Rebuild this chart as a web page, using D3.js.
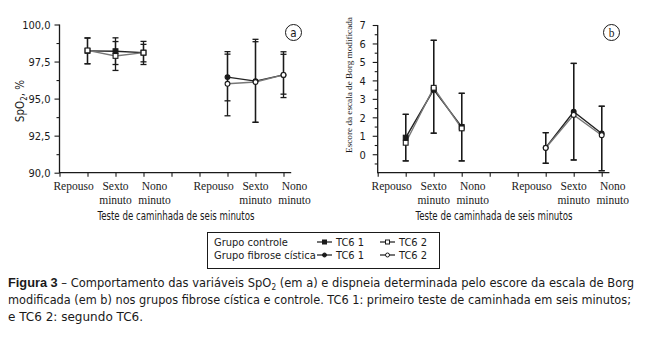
<!DOCTYPE html>
<html><head><meta charset="utf-8">
<script src="https://cdn.jsdelivr.net/npm/d3@7"></script>
<style>
html,body{margin:0;padding:0;background:#fff;}
svg{display:block;}
.sans{font-family:"Liberation Sans Narrow","DejaVu Sans Condensed","Liberation Sans",sans-serif;}
.serif{font-family:"Liberation Serif","DejaVu Serif",serif;}
</style>
</head><body>
<svg id="c" width="671" height="341"></svg>
<script>
// ---------- DATA ----------
const categories = ["Repouso", "Sexto minuto", "Nono minuto"];
const testLabel = "Teste de caminhada de seis minutos";
const seriesNames = ["TC6 1", "TC6 2"];
const groupNames = ["Grupo controle", "Grupo fibrose cística"];

// Panel a: SpO2 (%)
const spo2Ticks = [90, 92.5, 95, 97.5, 100];
const spo2ControlTC61 = [98.22, 98.20, 98.10];
const spo2ControlTC61Lo = [97.35, 97.30, 97.48];
const spo2ControlTC61Hi = [99.08, 99.10, 98.86];
const spo2ControlTC62 = [98.25, 97.88, 98.10];
const spo2ControlTC62Lo = [97.35, 96.90, 97.30];
const spo2ControlTC62Hi = [99.10, 98.85, 98.66];
const spo2FibroseTC61 = [96.45, 96.18, 96.60];
const spo2FibroseTC61Lo = [94.85, 93.40, 95.07];
const spo2FibroseTC61Hi = [98.17, 99.00, 98.16];
const spo2FibroseTC62 = [96.00, 96.12, 96.60];
const spo2FibroseTC62Lo = [93.84, 93.40, 95.30];
const spo2FibroseTC62Hi = [98.00, 98.84, 97.99];

// Panel b: Borg score
const borgTicks = [0, 1, 2, 3, 4, 5, 6, 7];
const borgControlTC61 = [0.90, 3.50, 1.48];
const borgControlTC62 = [0.62, 3.60, 1.40];
const borgControlLo = [-0.36, 1.14, -0.36];
const borgControlHi = [2.16, 6.17, 3.30];
const borgFibroseTC61 = [0.36, 2.30, 1.12];
const borgFibroseTC62 = [0.34, 2.13, 1.03];
const borgFibroseLo = [-0.49, -0.31, -0.89];
const borgFibroseHi = [1.17, 4.92, 2.60];

const caption1a = "Figura 3";
const caption1b = " – Comportamento das variáveis SpO";
const caption1c = " (em a) e dispneia determinada pelo escore da escala de Borg";
const caption2 = "modificada (em b) nos grupos fibrose cística e controle. TC6 1: primeiro teste de caminhada em seis minutos;";
const caption3 = "e TC6 2: segundo TC6.";

// ---------- DRAW ----------
const svg = d3.select("#c");
const INK = "#1a1a1a";
const controlSlots = [1, 2, 3], fibroseSlots = [6, 7, 8];
const labelShift = [-14, 0, 11];

function panel(opts) {
  const g = svg.append("g");
  const x = d3.scaleLinear().domain([0, 8.275]).range([opts.x0, opts.x0 + 8.275 * 28]);
  const y = d3.scaleLinear().domain(opts.ydom).range([172.7, opts.ytop]);

  const yMajor = d3.axisLeft(y).tickValues(opts.yticks).tickSize(5).tickPadding(opts.tpad)
    .tickFormat(opts.fmt);
  const yMinor = d3.axisLeft(y).tickValues(opts.yminor).tickSize(3).tickFormat("");
  const ya = g.append("g").attr("transform", `translate(${opts.x0},0)`).call(yMajor);
  const ym = g.append("g").attr("transform", `translate(${opts.x0},0)`).call(yMinor);
  [ya, ym].forEach(a => {
    a.select(".domain").remove();
    a.selectAll("line").attr("stroke", INK).attr("stroke-width", 1.1);
  });
  ya.selectAll("text").attr("class", "sans").attr("font-size", 11).attr("fill", INK).attr("font-family", null).attr("dy", "0.36em");
  g.append("line").attr("x1", opts.x0).attr("x2", opts.x0)
    .attr("y1", y(opts.ydom[1])).attr("y2", y(opts.ydom[0]) + 0.5)
    .attr("stroke", INK).attr("stroke-width", 1.3);

  const xa = g.append("g").attr("transform", `translate(0,${y(opts.ydom[0])})`)
    .call(d3.axisBottom(x).tickValues(d3.range(0, 9)).tickSize(4).tickFormat(""));
  xa.select(".domain").remove();
  xa.selectAll("line").attr("stroke", INK).attr("stroke-width", 1.1);
  g.append("line").attr("x1", opts.x0).attr("x2", x(8.275))
    .attr("y1", y(opts.ydom[0])).attr("y2", y(opts.ydom[0]))
    .attr("stroke", INK).attr("stroke-width", 1.3);

  [controlSlots, fibroseSlots].forEach(slots => {
    slots.forEach((s, i) => {
      const words = categories[i].split(" ");
      const t = g.append("text").attr("class", "serif").attr("font-size", 11.5).attr("fill", INK)
        .attr("text-anchor", "middle");
      words.forEach((w, k) => {
        t.append("tspan").attr("x", x(s) + labelShift[i]).attr("y", 190 + k * 14).text(w);
      });
    });
  });
  g.append("text").attr("class", "sans").attr("font-size", 11.5).attr("fill", INK)
    .attr("x", opts.titleX).attr("y", 220).attr("text-anchor", "middle")
    .attr("textLength", 157).attr("lengthAdjust", "spacingAndGlyphs").text(testLabel);

  const series = opts.series;
  series.forEach(s => {
    const slots = s.group === 0 ? controlSlots : fibroseSlots;
    const pts = s.mean.map((m, i) => ({x: x(slots[i]), m, lo: s.lo[i], hi: s.hi[i]}));
    const eb = g.append("g").attr("stroke", INK).attr("stroke-width", 1.3);
    pts.forEach(p => {
      eb.append("line").attr("x1", p.x).attr("x2", p.x).attr("y1", y(p.lo)).attr("y2", y(p.hi));
      eb.append("line").attr("x1", p.x - 3).attr("x2", p.x + 3).attr("y1", y(p.lo)).attr("y2", y(p.lo));
      eb.append("line").attr("x1", p.x - 3).attr("x2", p.x + 3).attr("y1", y(p.hi)).attr("y2", y(p.hi));
    });
    s._pts = pts;
  });
  series.forEach(s => {
    g.append("path").datum(s._pts)
      .attr("d", d3.line().x(p => p.x).y(p => y(p.m)))
      .attr("fill", "none").attr("stroke", s.filled ? "#222" : "#777").attr("stroke-width", 1.4);
  });
  series.forEach(s => {
    s._pts.forEach(p => {
      if (s.group === 0) {
        g.append("rect").attr("x", p.x - 2.4).attr("y", y(p.m) - 2.4).attr("width", 4.8).attr("height", 4.8)
          .attr("fill", s.filled ? INK : "#fff").attr("stroke", INK).attr("stroke-width", 1.1);
      } else {
        g.append("circle").attr("cx", p.x).attr("cy", y(p.m)).attr("r", 2.4)
          .attr("fill", s.filled ? INK : "#fff").attr("stroke", INK).attr("stroke-width", 1.1);
      }
    });
  });

  g.append("circle").attr("cx", opts.letterX).attr("cy", 32.5).attr("r", 8)
    .attr("fill", "none").attr("stroke", INK).attr("stroke-width", 1);
  g.append("text").attr("class", opts.letterClass).attr("font-size", 11.5).attr("fill", INK)
    .attr("x", opts.letterX).attr("y", 36.5).attr("text-anchor", "middle").text(opts.letter);
  return g;
}

const pa = panel({
  x0: 59.5, ydom: [90, 100], ytop: 24.5, yticks: spo2Ticks,
  yminor: d3.range(0, 8).map(i => 91.25 + i * 2.5).filter(v => v < 100),
  fmt: d => d3.format(".1f")(d).replace(".", ","), tpad: 4,
  titleX: 176, letterX: 293.5, letter: "a", letterClass: "sans",
  series: [
    {group: 0, filled: true, mean: spo2ControlTC61, lo: spo2ControlTC61Lo, hi: spo2ControlTC61Hi},
    {group: 0, filled: false, mean: spo2ControlTC62, lo: spo2ControlTC62Lo, hi: spo2ControlTC62Hi},
    {group: 1, filled: true, mean: spo2FibroseTC61, lo: spo2FibroseTC61Lo, hi: spo2FibroseTC61Hi},
    {group: 1, filled: false, mean: spo2FibroseTC62, lo: spo2FibroseTC62Lo, hi: spo2FibroseTC62Hi}
  ]
});
pa.append("text").attr("class", "sans").attr("font-size", 11.5).attr("fill", INK)
  .attr("transform", "translate(24,101) rotate(-90)").attr("text-anchor", "middle")
  .call(t => {
    t.append("tspan").text("SpO");
    t.append("tspan").attr("font-size", 8).attr("dy", 3).text("2");
    t.append("tspan").attr("dy", -3).text(", %");
  });

const pb = panel({
  x0: 377.7, ydom: [-1, 7], ytop: 25, yticks: borgTicks,
  yminor: d3.range(-0.5, 7, 1),
  fmt: d3.format("d"), tpad: 7,
  titleX: 494, letterX: 611.5, letter: "b", letterClass: "serif",
  series: [
    {group: 0, filled: true, mean: borgControlTC61, lo: borgControlLo, hi: borgControlHi},
    {group: 0, filled: false, mean: borgControlTC62, lo: borgControlLo, hi: borgControlHi},
    {group: 1, filled: true, mean: borgFibroseTC61, lo: borgFibroseLo, hi: borgFibroseHi},
    {group: 1, filled: false, mean: borgFibroseTC62, lo: borgFibroseLo, hi: borgFibroseHi}
  ]
});
pb.append("text").attr("class", "serif").attr("font-size", 9.2).attr("fill", INK)
  .attr("transform", "translate(351.5,85) rotate(-90)").attr("text-anchor", "middle")
  .text("Escore da escala de Borg modificada");

// ---------- LEGEND ----------
const lg = svg.append("g");
lg.append("rect").attr("x", 207.5).attr("y", 232.5).attr("width", 232).attr("height", 36)
  .attr("fill", "none").attr("stroke", INK).attr("stroke-width", 1);
groupNames.forEach((gn, gi) => {
  const yb = 245.5 + gi * 13;
  lg.append("text").attr("class", "sans").attr("font-size", 11).attr("fill", INK)
    .attr("x", 214).attr("y", yb).text(gn);
  seriesNames.forEach((sn, si) => {
    const lx = si === 0 ? 317 : 380;
    const cy = yb - 3.5;
    lg.append("line").attr("x1", lx).attr("x2", lx + 15).attr("y1", cy).attr("y2", cy)
      .attr("stroke", INK).attr("stroke-width", 1.2);
    const mx = lx + 7.5, filled = si === 0;
    if (gi === 0) {
      lg.append("rect").attr("x", mx - 2).attr("y", cy - 2).attr("width", 4).attr("height", 4)
        .attr("fill", filled ? INK : "#fff").attr("stroke", INK).attr("stroke-width", 1);
    } else {
      lg.append("circle").attr("cx", mx).attr("cy", cy).attr("r", 2)
        .attr("fill", filled ? INK : "#fff").attr("stroke", INK).attr("stroke-width", 1);
    }
    lg.append("text").attr("class", "sans").attr("font-size", 11).attr("fill", INK)
      .attr("x", lx + 19).attr("y", yb).text(sn);
  });
});

// ---------- CAPTION ----------
const cap = svg.append("g").attr("class", "sans").attr("font-size", 12.5).attr("fill", INK);
cap.append("text").attr("x", 8).attr("y", 287).attr("textLength", 626).attr("lengthAdjust", "spacingAndGlyphs")
  .call(t => {
    t.append("tspan").attr("font-weight", "bold").attr("font-family", "'Liberation Sans','DejaVu Sans',sans-serif").text(caption1a);
    t.append("tspan").text(caption1b);
    t.append("tspan").attr("font-size", 8).attr("dy", 3).text("2");
    t.append("tspan").attr("dy", -3).text(caption1c);
  });
cap.append("text").attr("x", 8).attr("y", 304).attr("textLength", 623).attr("lengthAdjust", "spacingAndGlyphs").text(caption2);
cap.append("text").attr("x", 8).attr("y", 321).attr("textLength", 135).attr("lengthAdjust", "spacingAndGlyphs").text(caption3);
</script>
</body></html>
